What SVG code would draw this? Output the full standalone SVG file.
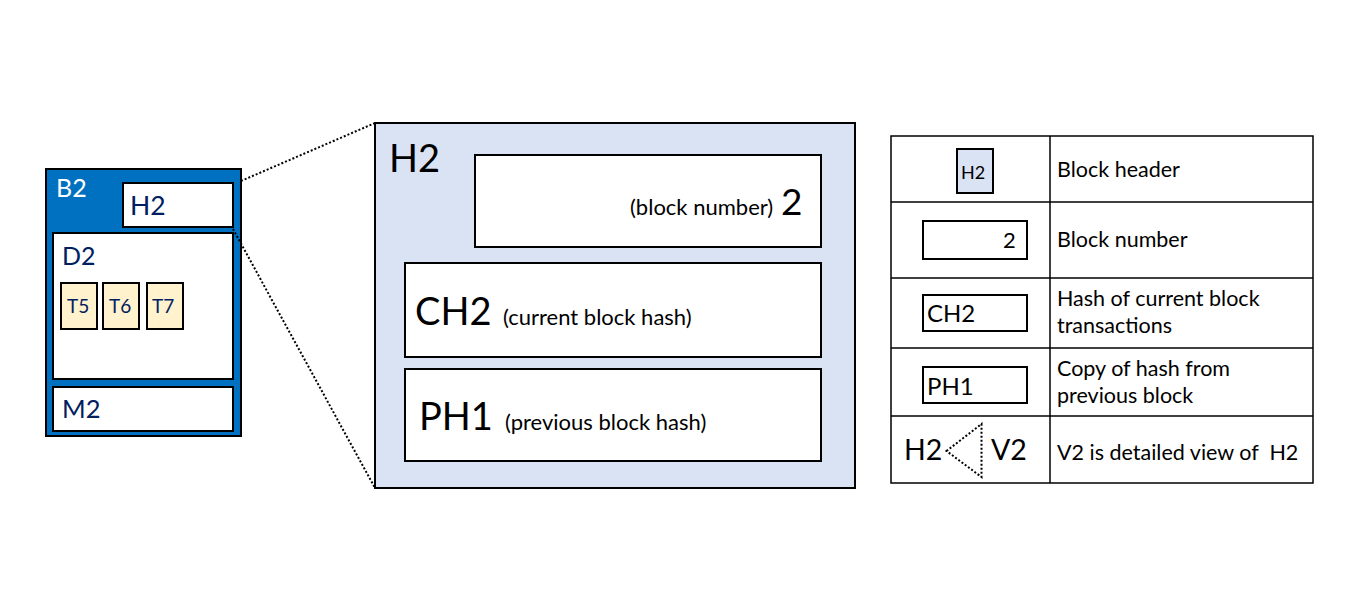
<svg xmlns="http://www.w3.org/2000/svg" width="1362" height="612" viewBox="0 0 1362 612">
<style>
text{font-family:Lato,"Open Sans","Liberation Sans",sans-serif;}
.bx{fill:#fff;stroke:#000;stroke-width:2;}
.nv{fill:#002060;}
.tx{fill:#FFF2CC;stroke:#000;stroke-width:2;}
.hd{fill:#DAE3F3;stroke:#000;stroke-width:2;}
.ln{stroke:#000;stroke-width:1.5;fill:none;}
.dot{stroke:#000;stroke-width:2;fill:none;stroke-dasharray:2 2;}
.lg{font-size:21.5px;fill:#000;}
</style>
<rect x="0" y="0" width="1362" height="612" fill="#fff"/>
<g id="B2">
<rect x="46" y="169" width="195" height="267" fill="#0070C0" stroke="#000" stroke-width="2"/>
<text x="56" y="197" font-size="25" fill="#fff">B2</text>
</g>
<g id="H2-small">
<rect class="bx" x="123" y="183" width="110" height="44"/>
<text class="nv" x="130" y="215" font-size="26.5">H2</text>
</g>
<g id="D2">
<rect class="bx" x="53" y="233" width="180" height="146"/>
<text class="nv" x="62" y="265" font-size="25">D2</text>
</g>
<g id="T5"><rect class="tx" x="61" y="283" width="36" height="46"/><text class="nv" x="67" y="313" font-size="19">T5</text></g>
<g id="T6"><rect class="tx" x="103" y="283" width="36" height="46"/><text class="nv" x="109" y="313" font-size="19">T6</text></g>
<g id="T7"><rect class="tx" x="147" y="283" width="36" height="46"/><text class="nv" x="152" y="313" font-size="19">T7</text></g>
<g id="M2">
<rect class="bx" x="53" y="387" width="180" height="44"/>
<text class="nv" x="62" y="418" font-size="25.5">M2</text>
</g>
<g id="connectors">
<line class="dot" x1="241" y1="181" x2="375" y2="123"/>
<line class="dot" x1="233" y1="229" x2="375" y2="488"/>
</g>
<g id="V2">
<rect class="hd" x="375" y="123" width="480" height="365"/>
<text x="389" y="172" font-size="38" fill="#000">H2</text>
</g>
<g id="blocknumber">
<rect class="bx" x="475" y="155" width="346" height="92"/>
<text x="630" y="215" font-size="22" fill="#000">(block number)</text>
<text x="781" y="215" font-size="37" fill="#000">2</text>
</g>
<g id="CH2">
<rect class="bx" x="405" y="263" width="416" height="94"/>
<text x="415" y="325" font-size="38" fill="#000">CH2</text>
<text x="503" y="325" font-size="22" fill="#000">(current block hash)</text>
</g>
<g id="PH1">
<rect class="bx" x="405" y="369" width="416" height="92"/>
<text x="419" y="430" font-size="38" fill="#000">PH1</text>
<text x="505" y="430" font-size="22" fill="#000">(previous block hash)</text>
</g>
<g id="legend">
<rect x="891" y="136" width="422" height="347" fill="#fff" stroke="#000" stroke-width="1.5"/>
<line class="ln" x1="1050" y1="136" x2="1050" y2="483"/>
<line class="ln" x1="891" y1="202" x2="1313" y2="202"/>
<line class="ln" x1="891" y1="278" x2="1313" y2="278"/>
<line class="ln" x1="891" y1="348" x2="1313" y2="348"/>
<line class="ln" x1="891" y1="416" x2="1313" y2="416"/>
<g id="lg-header">
<rect class="hd" x="957" y="149" width="36" height="44"/>
<text x="961" y="179" font-size="18" fill="#000">H2</text>
<text class="lg" x="1057" y="177">Block header</text>
</g>
<g id="lg-number">
<rect class="bx" x="923" y="221" width="104" height="38"/>
<text x="1003" y="248" font-size="22" fill="#000">2</text>
<text class="lg" x="1057" y="247">Block number</text>
</g>
<g id="lg-ch2">
<rect class="bx" x="923" y="295" width="104" height="36"/>
<text x="927" y="322" font-size="24" fill="#000">CH2</text>
<text class="lg" x="1057" y="306">Hash of current block</text>
<text class="lg" x="1057" y="333">transactions</text>
</g>
<g id="lg-ph1">
<rect class="bx" x="923" y="367" width="104" height="36"/>
<text x="927" y="395" font-size="24" fill="#000">PH1</text>
<text class="lg" x="1057" y="376">Copy of hash from</text>
<text class="lg" x="1057" y="403">previous block</text>
</g>
<g id="lg-view">
<text x="904" y="460" font-size="28.5" fill="#000">H2</text>
<polygon class="dot" points="946.5,451 981.5,424 981.5,477" stroke-width="1.5"/>
<text x="991" y="460" font-size="28.5" fill="#000">V2</text>
<text class="lg" x="1057" y="460" xml:space="preserve">V2 is detailed view of  H2</text>
</g>
</g>
</svg>
